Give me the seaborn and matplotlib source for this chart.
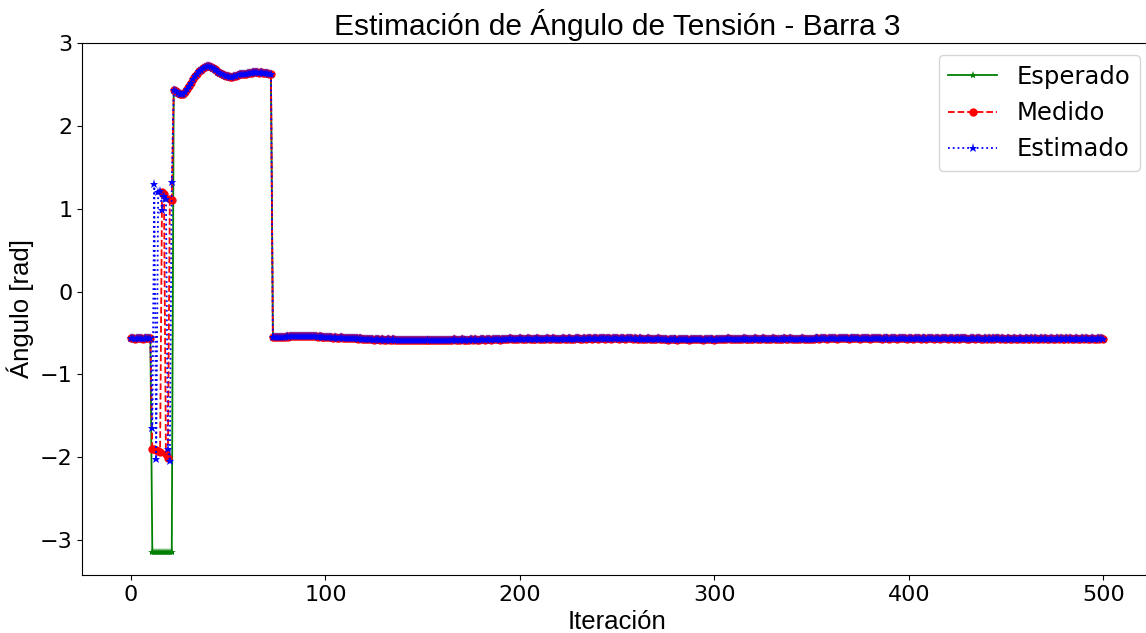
import matplotlib
matplotlib.use("Agg")
import matplotlib.pyplot as plt
import seaborn as sns
import pandas as pd

# ---------------- data ----------------
inicio = [-0.56, -0.56, -0.57, -0.56, -0.56, -0.56, -0.57, -0.56, -0.56, -0.56, -0.56]  # iter 0-10

esperado_falla = [-3.14] * 11  # iter 11-21
medido_falla = [-1.90, -1.90, -1.91, -1.92, -1.93, 1.20, 1.18, -1.96, -2.01, 1.12, 1.10]
estimado_falla = [-1.65, 1.30, -2.02, 1.20, 1.22, 0.98, 1.15, 1.12, -1.90, -2.05, 1.32]

curva = [2.43, 2.42, 2.40, 2.39, 2.38, 2.39, 2.41, 2.44, 2.48, 2.52,
         2.56, 2.60, 2.63, 2.66, 2.68, 2.70, 2.71, 2.72, 2.72, 2.71,
         2.70, 2.69, 2.67, 2.65, 2.64, 2.62, 2.61, 2.60, 2.60, 2.59,
         2.59, 2.60, 2.60, 2.61, 2.62, 2.62, 2.63, 2.63, 2.64, 2.64,
         2.64, 2.65, 2.65, 2.65, 2.64, 2.65, 2.64, 2.64, 2.64, 2.63,
         2.63]  # iter 22-72

cola = [
    -0.55, -0.55, -0.55, -0.55, -0.55, -0.55, -0.55, -0.54, -0.55, -0.54, -0.54, -0.54, -0.54, -0.54, -0.53, -0.54, -0.54, -0.54, -0.54, -0.54,
    -0.54, -0.54, -0.54, -0.55, -0.54, -0.55, -0.55, -0.55, -0.55, -0.55, -0.55, -0.56, -0.55, -0.56, -0.56, -0.55, -0.56, -0.56, -0.56, -0.56,
    -0.56, -0.56, -0.56, -0.56, -0.57, -0.56, -0.57, -0.57, -0.57, -0.57, -0.57, -0.57, -0.58, -0.57, -0.57, -0.58, -0.57, -0.58, -0.58, -0.57,
    -0.58, -0.58, -0.57, -0.58, -0.58, -0.58, -0.58, -0.58, -0.58, -0.59, -0.58, -0.58, -0.58, -0.59, -0.58, -0.59, -0.59, -0.58, -0.59, -0.59,
    -0.59, -0.58, -0.59, -0.59, -0.58, -0.58, -0.59, -0.58, -0.58, -0.58, -0.58, -0.58, -0.58, -0.57, -0.58, -0.58, -0.58, -0.57, -0.58, -0.58,
    -0.58, -0.58, -0.57, -0.58, -0.57, -0.58, -0.58, -0.57, -0.57, -0.58, -0.57, -0.57, -0.58, -0.57, -0.57, -0.57, -0.57, -0.58, -0.57, -0.57,
    -0.57, -0.57, -0.56, -0.57, -0.57, -0.57, -0.57, -0.56, -0.57, -0.57, -0.57, -0.56, -0.57, -0.57, -0.57, -0.57, -0.56, -0.57, -0.57, -0.57,
    -0.57, -0.56, -0.57, -0.57, -0.56, -0.57, -0.57, -0.57, -0.57, -0.56, -0.57, -0.57, -0.56, -0.57, -0.57, -0.57, -0.56, -0.56, -0.57, -0.57,
    -0.56, -0.57, -0.56, -0.56, -0.57, -0.56, -0.56, -0.57, -0.56, -0.56, -0.56, -0.57, -0.56, -0.56, -0.57, -0.56, -0.56, -0.56, -0.57, -0.56,
    -0.56, -0.57, -0.56, -0.56, -0.56, -0.57, -0.56, -0.57, -0.57, -0.56, -0.57, -0.57, -0.57, -0.56, -0.57, -0.57, -0.57, -0.57, -0.56, -0.57,
    -0.57, -0.57, -0.57, -0.58, -0.57, -0.57, -0.57, -0.57, -0.58, -0.57, -0.57, -0.57, -0.57, -0.57, -0.58, -0.57, -0.57, -0.57, -0.57, -0.57,
    -0.57, -0.58, -0.57, -0.57, -0.57, -0.57, -0.57, -0.58, -0.57, -0.57, -0.57, -0.57, -0.57, -0.57, -0.56, -0.57, -0.57, -0.57, -0.57, -0.57,
    -0.57, -0.57, -0.56, -0.57, -0.57, -0.57, -0.57, -0.57, -0.56, -0.57, -0.57, -0.57, -0.56, -0.57, -0.57, -0.57, -0.57, -0.56, -0.57, -0.57,
    -0.57, -0.57, -0.57, -0.56, -0.57, -0.57, -0.56, -0.57, -0.57, -0.57, -0.57, -0.57, -0.56, -0.57, -0.57, -0.57, -0.57, -0.57, -0.57, -0.56,
    -0.56, -0.57, -0.56, -0.56, -0.56, -0.57, -0.56, -0.56, -0.56, -0.56, -0.57, -0.56, -0.56, -0.56, -0.56, -0.56, -0.57, -0.56, -0.56, -0.56,
    -0.56, -0.56, -0.57, -0.56, -0.56, -0.56, -0.56, -0.57, -0.56, -0.56, -0.56, -0.56, -0.56, -0.57, -0.56, -0.56, -0.56, -0.57, -0.56, -0.56,
    -0.56, -0.57, -0.56, -0.56, -0.56, -0.56, -0.57, -0.56, -0.56, -0.57, -0.56, -0.56, -0.56, -0.57, -0.56, -0.56, -0.57, -0.56, -0.56, -0.56,
    -0.57, -0.56, -0.56, -0.57, -0.56, -0.56, -0.56, -0.57, -0.56, -0.56, -0.57, -0.56, -0.56, -0.57, -0.56, -0.56, -0.56, -0.57, -0.57, -0.56,
    -0.56, -0.57, -0.56, -0.56, -0.57, -0.57, -0.56, -0.57, -0.56, -0.57, -0.56, -0.57, -0.56, -0.56, -0.57, -0.56, -0.57, -0.57, -0.56, -0.57,
    -0.57, -0.56, -0.57, -0.57, -0.56, -0.57, -0.57, -0.56, -0.57, -0.57, -0.56, -0.57, -0.56, -0.57, -0.57, -0.56, -0.57, -0.56, -0.57, -0.57,
    -0.56, -0.57, -0.57, -0.56, -0.57, -0.56, -0.57, -0.57, -0.56, -0.57, -0.56, -0.57, -0.57, -0.56, -0.57, -0.57, -0.56, -0.57, -0.56, -0.57,
    -0.57, -0.56, -0.57, -0.57, -0.56, -0.57, -0.56, -0.57,
]  # iter 73-500

esperado = inicio + esperado_falla + curva + cola
medido = inicio + medido_falla + curva + cola
estimado = inicio + estimado_falla + curva + cola
iteraciones = list(range(len(esperado)))

titulo = "Estimación de Ángulo de Tensión - Barra 3"
etiqueta_x = "Iteración"
etiqueta_y = "Ángulo [rad]"

# ---------------- figure ----------------
W, H = 1146, 633
fig = plt.figure(figsize=(W / 100, H / 100), dpi=100)
ax = fig.add_axes([82.3 / W, 58 / H, (1152 - 82.3) / W, (575 - 43) / H])

df = pd.DataFrame({"it": iteraciones, "esp": esperado, "med": medido, "est": estimado})

sns.lineplot(data=df, x="it", y="esp", ax=ax, color="green", linestyle="-", linewidth=1.3,
             marker="*", markersize=6, markeredgewidth=0, label="Esperado", estimator=None, sort=False)
sns.lineplot(data=df, x="it", y="med", ax=ax, color="red", linestyle="--", linewidth=1.3,
             marker="o", markersize=6, markeredgewidth=0, label="Medido", estimator=None, sort=False)
sns.lineplot(data=df, x="it", y="est", ax=ax, color="blue", linestyle=":", linewidth=1.3,
             marker="*", markersize=6.5, markeredgewidth=0, label="Estimado", estimator=None, sort=False)

ax.set_xlim(-25, 525)
ax.set_ylim(-3.42, 3.0)
ax.set_xticks([0, 100, 200, 300, 400, 500])
ax.set_yticks([-3, -2, -1, 0, 1, 2, 3])
ax.tick_params(labelsize=16)

ax.set_title(titulo, fontsize=21.5, family="Liberation Sans")
ax.set_xlabel(etiqueta_x, fontsize=18.5, family="Liberation Sans")
ax.set_ylabel(etiqueta_y, fontsize=18.5, family="Liberation Sans")

ax.legend(loc="upper right", fontsize=17.5)

fig.savefig("out.png", dpi=100)
